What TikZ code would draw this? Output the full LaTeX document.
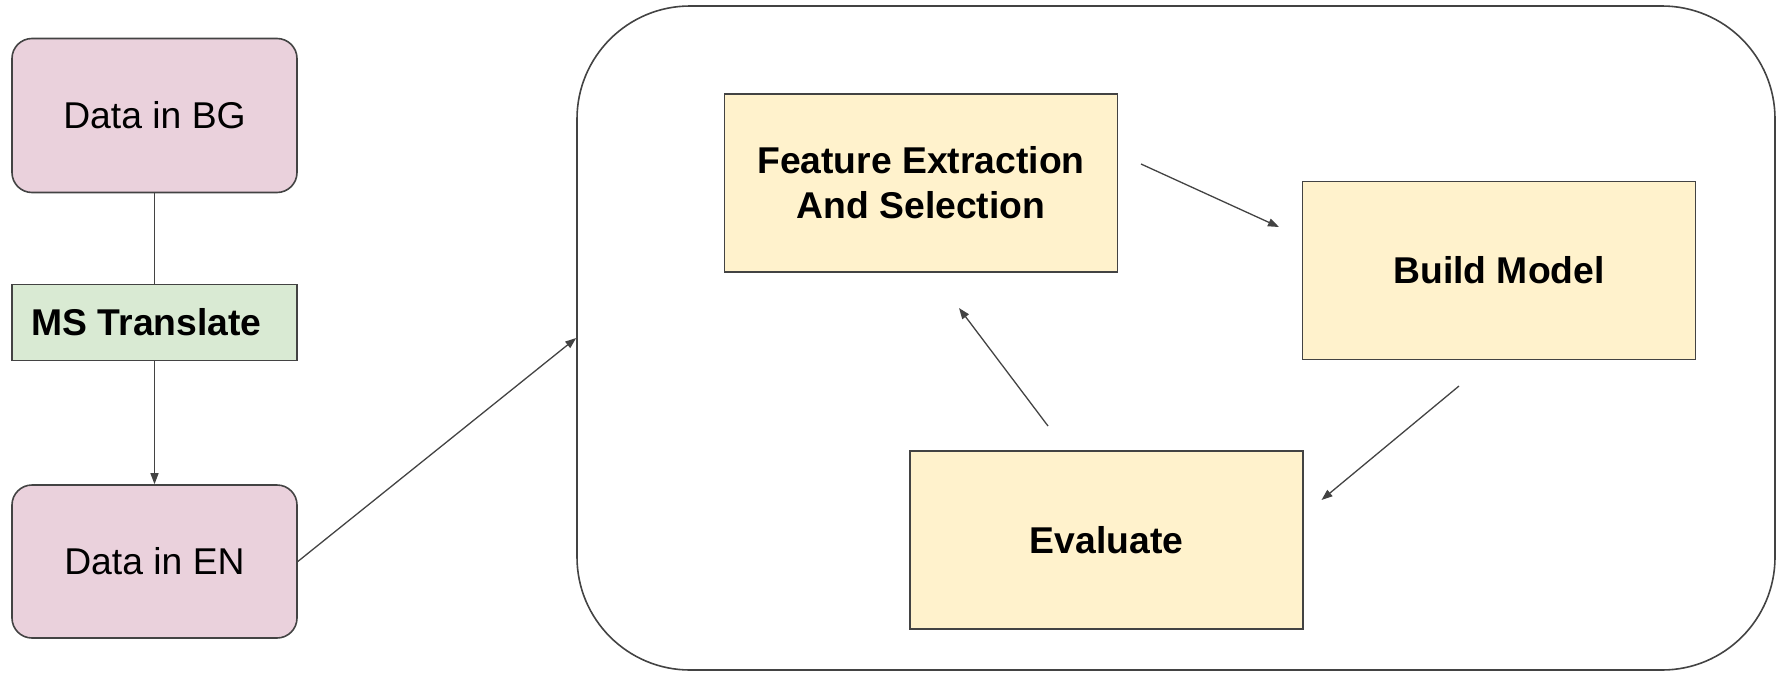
\documentclass[tikz,border=0pt]{standalone}
\usepackage{fontspec}
\setmainfont{Liberation Sans}
\usetikzlibrary{arrows.meta}
\definecolor{pinkfill}{HTML}{EAD1DC}
\definecolor{greenfill}{HTML}{D9EAD3}
\definecolor{yellowfill}{HTML}{FFF2CC}
\definecolor{edgegray}{HTML}{434343}
\begin{document}
\begin{tikzpicture}[x=1pt,y=-1pt,
  box/.style={draw=edgegray, line width=1.6pt, inner sep=0pt, align=center,
    font=\fontsize{37.3}{45}\selectfont},
  databox/.style={box, fill=pinkfill, rounded corners=20pt, minimum width=285pt, minimum height=154pt},
  transbox/.style={box, fill=greenfill, minimum width=285pt, minimum height=76pt},
  stagebox/.style={box, fill=yellowfill, minimum width=393pt, minimum height=178pt,
    font=\fontsize{37.3}{45}\selectfont\bfseries},
  conn/.style={draw=edgegray, line width=1.3pt},
  arr/.style={conn, -{Triangle[length=11pt,width=8pt]}}
]
\useasboundingbox (0,0) rectangle (1777,672);
\node[box, draw=edgegray, rounded corners=113pt, minimum width=1198pt, minimum height=664pt] (big) at (1176,338) {};
\node[databox] (bg) at (154.5,115.5) {Data in BG};
\node[transbox] (ms) at (154.5,322.5) {};
\node[font=\fontsize{37.3}{45}\selectfont\bfseries, inner sep=0pt] (mst) at (146.5,322.5) {MS Translate};
\node[databox, minimum height=153pt] (en) at (154.5,561.5) {Data in EN};
\node[stagebox] (feat) at (921,183) {Feature Extraction\\And Selection};
\node[stagebox] (build) at (1499,270.5) {Build Model};
\node[stagebox] (eval) at (1106.5,540) {Evaluate};
\coordinate (f1) at (1141,164);
\coordinate (f2) at (1279,227);
\coordinate (b1) at (1459,386);
\coordinate (b2) at (1321.5,500);
\coordinate (e1) at (1048,426);
\coordinate (e2) at (959,308);
\draw[conn] (bg.south) -- (ms.north);
\draw[arr] (ms.south) -- (en.north);
\draw[arr] (en.east) -- (big.west);
\draw[arr] (f1) -- (f2);
\draw[arr] (b1) -- (b2);
\draw[arr] (e1) -- (e2);
\end{tikzpicture}
\end{document}
